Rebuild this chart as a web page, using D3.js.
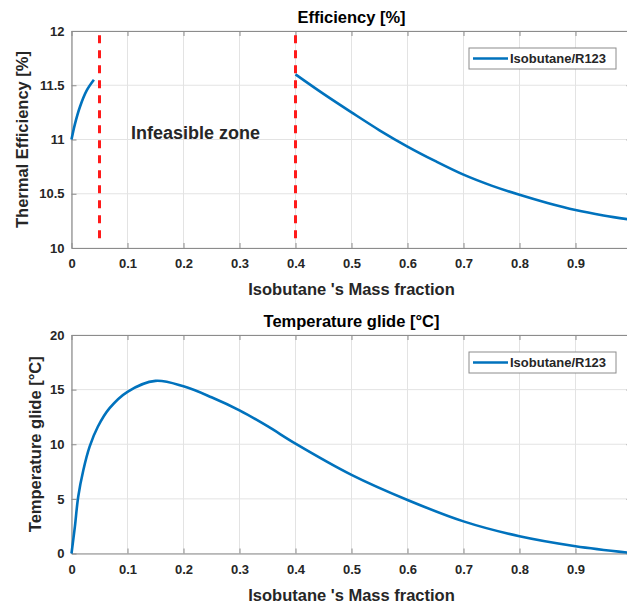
<!DOCTYPE html>
<html>
<head>
<meta charset="utf-8">
<script src="https://cdn.jsdelivr.net/npm/d3@7"></script>
<style>
  body { margin: 0; background: #fff; }
  svg { display: block; font-family: "Liberation Sans", Arial, sans-serif; }
</style>
</head>
<body>
<div id="chart"></div>
<script>
// ---------- data ----------
const xTicks = [0, 0.1, 0.2, 0.3, 0.4, 0.5, 0.6, 0.7, 0.8, 0.9]
const effTicks = [10, 10.5, 11, 11.5, 12]
const glideTicks = [0, 5, 10, 15, 20]

// efficiency, feasible part below 0.05
const effX1 = [0, 0.006, 0.015, 0.027, 0.04]
const effY1 = [11.0, 11.14, 11.30, 11.45, 11.55]
// efficiency, feasible part above 0.4
const effX2 = [0.4, 0.45, 0.5, 0.55, 0.6, 0.65, 0.7, 0.75, 0.8, 0.85, 0.9, 0.95, 1.0]
const effY2 = [11.6, 11.42, 11.25, 11.085, 10.935, 10.80, 10.676, 10.575, 10.49, 10.415, 10.35, 10.30, 10.26]
// infeasible zone borders
const limits = [0.05, 0.4]

// temperature glide
const glideX = [0, 0.006, 0.012, 0.021, 0.0325, 0.047, 0.068, 0.1, 0.15, 0.2, 0.25, 0.3, 0.35, 0.4, 0.5, 0.6, 0.7, 0.8, 0.9, 1.0]
const glideY = [0, 2.44, 5.2, 7.6, 9.8, 11.6, 13.3, 14.8, 15.8, 15.3, 14.3, 13.1, 11.65, 10.06, 7.2, 4.9, 2.94, 1.58, 0.67, 0.05]

const seriesName = 'Isobutane/R123'

// ---------- svg ----------
const W = 627, H = 605
const svg = d3.select('#chart').append('svg')
  .attr('width', W).attr('height', H)

const blue = '#0072BD'
const boxColor = '#8c8c8c'
const gridColor = '#e3e3e3'
const textColor = '#262626'

const left = 71.5, right = 631.5
const xScale = d3.scaleLinear().domain([0, 1]).range([left, right])

function panel(top, bottom, yDomain, yTicks, title, yLabel, yLabelX) {
  const yScale = d3.scaleLinear().domain(yDomain).range([bottom, top])
  const g = svg.append('g')

  // grid
  g.append('g').selectAll('line').data(xTicks).join('line')
    .attr('x1', d => xScale(d)).attr('x2', d => xScale(d))
    .attr('y1', top).attr('y2', bottom)
    .attr('stroke', gridColor).attr('stroke-width', 1)
  g.append('g').selectAll('line').data(yTicks).join('line')
    .attr('x1', left).attr('x2', right)
    .attr('y1', d => yScale(d)).attr('y2', d => yScale(d))
    .attr('stroke', gridColor).attr('stroke-width', 1)

  // axes with inward ticks
  const xAxis = g.append('g').attr('transform', `translate(0,${bottom})`)
    .call(d3.axisBottom(xScale).tickValues(xTicks).tickSizeInner(-5).tickSizeOuter(0).tickPadding(11)
      .tickFormat(d => d === 0 ? '0' : d3.format('.1f')(d)))
  const xAxisTop = g.append('g').attr('transform', `translate(0,${top})`)
    .call(d3.axisTop(xScale).tickValues(xTicks).tickSizeInner(-5).tickSizeOuter(0).tickFormat(''))
  const yAxis = g.append('g').attr('transform', `translate(${left},0)`)
    .call(d3.axisLeft(yScale).tickValues(yTicks).tickSizeInner(-5).tickSizeOuter(0).tickPadding(7)
      .tickFormat(d => String(d)))
  const yAxisRight = g.append('g').attr('transform', `translate(${right},0)`)
    .call(d3.axisRight(yScale).tickValues(yTicks).tickSizeInner(-5).tickSizeOuter(0).tickFormat(''))

  ;[xAxis, xAxisTop, yAxis, yAxisRight].forEach(a => {
    a.select('.domain').attr('stroke', boxColor).attr('stroke-width', 1.2)
    a.selectAll('.tick line').attr('stroke', boxColor)
    a.selectAll('.tick text').attr('fill', textColor)
      .attr('font-size', 13).attr('font-weight', 'bold')
      .attr('font-family', '"Liberation Sans", Arial, sans-serif')
  })

  // title
  g.append('text').attr('x', (left + right) / 2).attr('y', top - 8)
    .attr('text-anchor', 'middle').attr('font-size', 16.5).attr('font-weight', 'bold')
    .attr('fill', '#000').text(title)

  // x label
  g.append('text').attr('x', (left + right) / 2).attr('y', bottom + 47)
    .attr('text-anchor', 'middle').attr('font-size', 16.5).attr('font-weight', 'bold')
    .attr('fill', textColor).text("Isobutane 's Mass fraction")

  // y label
  g.append('text')
    .attr('transform', `translate(${yLabelX},${(top + bottom) / 2}) rotate(-90)`)
    .attr('text-anchor', 'middle').attr('font-size', 16.5).attr('font-weight', 'bold')
    .attr('fill', textColor).text(yLabel)

  return { g, yScale, top }
}

function legend(p) {
  const lg = p.g.append('g').attr('transform', `translate(469,${p.top + 17})`)
  lg.append('rect').attr('width', 147).attr('height', 21)
    .attr('fill', '#fff').attr('stroke', '#8c8c8c').attr('stroke-width', 1)
  lg.append('line').attr('x1', 4).attr('x2', 39).attr('y1', 10.5).attr('y2', 10.5)
    .attr('stroke', blue).attr('stroke-width', 2.5)
  lg.append('text').attr('x', 41).attr('y', 15)
    .attr('font-size', 13).attr('font-weight', 'bold').attr('fill', textColor)
    .text(seriesName)
}

// ---------- top panel: efficiency ----------
const p1 = panel(31, 248, [10, 12], effTicks, 'Efficiency [%]', 'Thermal Efficiency [%]', 28)

// infeasible zone borders
p1.g.append('g').selectAll('line').data(limits).join('line')
  .attr('x1', d => xScale(d)).attr('x2', d => xScale(d))
  .attr('y1', p1.yScale(11.96)).attr('y2', p1.yScale(10.04))
  .attr('stroke', '#ff1a1a').attr('stroke-width', 3)
  .attr('stroke-dasharray', '8,7')

const line1 = d3.line()
  .x(d => xScale(d[0])).y(d => p1.yScale(d[1]))
  .curve(d3.curveCatmullRom.alpha(0.5))

p1.g.append('path').datum(d3.zip(effX1, effY1))
  .attr('d', line1).attr('fill', 'none').attr('stroke', blue).attr('stroke-width', 2.6)
p1.g.append('path').datum(d3.zip(effX2, effY2))
  .attr('d', line1).attr('fill', 'none').attr('stroke', blue).attr('stroke-width', 2.6)

p1.g.append('text').attr('x', 131).attr('y', 139)
  .attr('font-size', 18).attr('font-weight', 'bold').attr('fill', textColor)
  .text('Infeasible zone')

legend(p1)

// ---------- bottom panel: temperature glide ----------
const p2 = panel(335, 553.5, [0, 20], glideTicks, 'Temperature glide [°C]', 'Temperature glide [°C]', 41)

const line2 = d3.line()
  .x(d => xScale(d[0])).y(d => p2.yScale(d[1]))
  .curve(d3.curveCatmullRom.alpha(0.5))

p2.g.append('path').datum(d3.zip(glideX, glideY))
  .attr('d', line2).attr('fill', 'none').attr('stroke', blue).attr('stroke-width', 2.6)

legend(p2)
</script>
</body>
</html>
